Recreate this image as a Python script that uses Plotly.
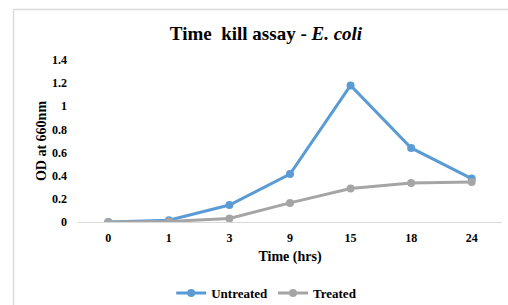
import plotly.graph_objects as go

time_labels = ["0", "1", "3", "9", "15", "18", "24"]
untreated = [0.0, 0.015, 0.147, 0.415, 1.18, 0.64, 0.375]
treated = [0.0, 0.005, 0.03, 0.165, 0.29, 0.337, 0.345]
y_ticks = [0, 0.2, 0.4, 0.6, 0.8, 1, 1.2, 1.4]
y_tick_text = ["0", "0.2", "0.4", "0.6", "0.8", "1", "1.2", "1.4"]

FONT = "Liberation Serif"
BLUE = "#5B9BD5"
GRAY = "#A5A5A5"

W, H = 508, 305
L, R, T, B = 78, 6, 60, 83
PW, PH = W - L - R, H - T - B

fig = go.Figure()
fig.add_trace(go.Scatter(x=time_labels, y=untreated, name="Untreated", mode="lines+markers",
                         line=dict(color=BLUE, width=3), marker=dict(color=BLUE, size=8)))
fig.add_trace(go.Scatter(x=time_labels, y=treated, name="Treated", mode="lines+markers",
                         line=dict(color=GRAY, width=3), marker=dict(color=GRAY, size=8)))

fig.update_layout(
    width=W, height=H,
    margin=dict(l=L, r=R, t=T, b=B, autoexpand=False),
    paper_bgcolor="white", plot_bgcolor="white",
    font=dict(family=FONT, color="#000000", size=12),
    title=dict(text="<b>Time  kill assay - <i>E. coli</i></b>", x=266 / W, xanchor="center",
               y=1 - 33 / H, yanchor="middle", font=dict(family=FONT, size=19, color="#000000")),
    xaxis=dict(type="category", showgrid=False, showline=True, linecolor="#D9D9D9", linewidth=1,
               ticks="", ticklabelstandoff=5,
               tickfont=dict(family=FONT, size=12, color="#000000", weight="bold"),
               title=dict(text="<b>Time (hrs)</b>", font=dict(family=FONT, size=14, color="#000000"), standoff=6),
               range=[-0.5, 6.5], zeroline=False),
    yaxis=dict(range=[0, 1.4], tickvals=y_ticks, ticktext=y_tick_text, showgrid=False, showline=False,
               zeroline=False, ticks="", ticklabelstandoff=10,
               tickfont=dict(family=FONT, size=12, color="#000000", weight="bold"),
               title=dict(text="<b>OD at 660nm</b>", font=dict(family=FONT, size=14, color="#000000"), standoff=2)),
    legend=dict(orientation="h", x=0.445, xanchor="center", y=-(293 - T - PH) / PH, yanchor="middle",
                font=dict(family=FONT, size=13, color="#000000", weight="bold"),
                bgcolor="rgba(0,0,0,0)", tracegroupgap=0),
    showlegend=True,
)

fx = (13.5 - L) / PW
fy = 1 + (T - 9.5) / PH
fig.add_shape(type="line", xref="paper", yref="paper", x0=fx, x1=fx, y0=-1, y1=fy,
              line=dict(color="#D9D9D9", width=1.5))
fig.add_shape(type="line", xref="paper", yref="paper", x0=fx, x1=1.2, y0=fy, y1=fy,
              line=dict(color="#D9D9D9", width=1.5))

# remove the default page margin so the figure fills the window exactly
fig.write_html("out.html", config={"displayModeBar": False}, post_script=(
    "document.documentElement.style.margin='0';document.body.style.margin='0';"
    "document.documentElement.style.overflow='hidden';document.body.style.overflow='hidden';"))
